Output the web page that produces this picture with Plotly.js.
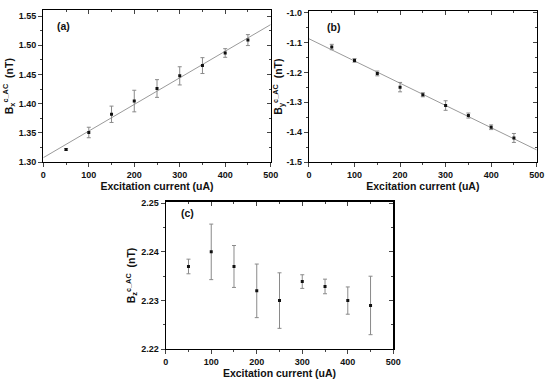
<!DOCTYPE html>
<html><head><meta charset="utf-8">
<script src="https://cdn.plot.ly/plotly-3.0.1.min.js"></script>
<style>html,body{margin:0;padding:0;background:#fff}#c{width:550px;height:383px}</style>
</head><body><div id="c"></div>
<script>
const current = [50,100,150,200,250,300,350,400,450];
const bxVal = [1.3216,1.3506,1.3818,1.4045,1.4260,1.4477,1.4653,1.4869,1.5090];
const bxErr = [0.0015,0.0090,0.0140,0.0185,0.0152,0.0156,0.0136,0.0074,0.0094];
const byVal = [-1.1152,-1.1600,-1.2036,-1.2494,-1.2750,-1.3110,-1.3445,-1.3837,-1.4195];
const byErr = [0.0090,0.0060,0.0080,0.0157,0.0067,0.0160,0.0084,0.0078,0.0150];
const bzVal = [2.2370,2.2400,2.2370,2.2320,2.2300,2.2339,2.2329,2.2300,2.2290];
const bzErr = [0.0015,0.0057,0.0043,0.0055,0.0057,0.0014,0.0015,0.0028,0.0060];
const xTicks = [0,100,200,300,400,500];
const aTicks = [1.30,1.35,1.40,1.45,1.50,1.55];
const bTicks = [-1.5,-1.4,-1.3,-1.2,-1.1,-1.0];
const cTicks = [2.22,2.23,2.24,2.25];

function fit(x,y){
  const n=x.length; const mx=x.reduce((a,b)=>a+b)/n; const my=y.reduce((a,b)=>a+b)/n;
  let sxy=0,sxx=0; for(let i=0;i<n;i++){sxy+=(x[i]-mx)*(y[i]-my);sxx+=(x[i]-mx)**2;}
  const s=sxy/sxx; return [s, my-s*mx];
}
const FONT='Liberation Sans, Arial, sans-serif';
const traces=[];
const sets=[[bxVal,bxErr,'x','y'],[byVal,byErr,'x2','y2'],[bzVal,bzErr,'x3','y3']];
sets.forEach(([v,e,xa,ya],i)=>{
  if(i<2){
    const [s,b]=fit(current,v);
    const xr=[xTicks[0],xTicks[xTicks.length-1]];
    traces.push({x:xr,y:xr.map(t=>b+s*t),mode:'lines',line:{color:'#9a9a9a',width:1},xaxis:xa,yaxis:ya,hoverinfo:'skip'});
  }
  traces.push({x:current,y:v,mode:'markers',marker:{symbol:'square',size:3,color:'#111'},
    error_y:{type:'data',array:e,visible:true,color:'#8a8a8a',thickness:1,width:2},xaxis:xa,yaxis:ya});
});

const tickFont={family:FONT,size:9,color:'#111'};
const titleFont={family:FONT,size:10.5,color:'#111',weight:700};
const bold=(arr,d)=>arr.map(v=>'<b>'+v.toFixed(d)+'</b>');
function xax(dom,anchor){
  return {domain:dom,anchor:anchor,range:[0,500],tickvals:xTicks,ticktext:bold(xTicks,0),ticks:'outside',ticklen:4,tickwidth:1,
    showline:true,linewidth:1.2,linecolor:'#000',mirror:true,showgrid:false,zeroline:false,
    minor:{dtick:50,ticks:'outside',ticklen:2,tickwidth:1},
    tickfont:tickFont,automargin:false,
    title:{text:'<b>Excitation current (uA)</b>',font:titleFont,standoff:2}};
}
function yax(dom,anchor,range,tv,d,mdt,title,so){
  return {domain:dom,anchor:anchor,range:range,tickvals:tv,ticktext:bold(tv,d),ticks:'outside',ticklen:4,tickwidth:1,
    showline:true,linewidth:1.2,linecolor:'#000',mirror:true,showgrid:false,zeroline:false,
    minor:{dtick:mdt,tick0:0,ticks:'outside',ticklen:2,tickwidth:1},
    tickfont:tickFont,automargin:false,
    title:{text:title,font:titleFont,standoff:so}};
}
function xin(ov,anchor){return {overlaying:ov,anchor:anchor,side:'top',range:[0,500],dtick:100,tick0:0,ticks:'inside',ticklen:4,showticklabels:false,showgrid:false,zeroline:false,minor:{dtick:50,ticks:'inside',ticklen:2}};}
function yin(ov,anchor,range,dtick,mdt){return {overlaying:ov,anchor:anchor,side:'right',range:range,dtick:dtick,tick0:0,ticks:'inside',ticklen:4,showticklabels:false,showgrid:false,zeroline:false,minor:{dtick:mdt,ticks:'inside',ticklen:2}};}

const rA=[1.30,1.56], rB=[-1.5,-0.995], rC=[2.22,2.2503];
const layout={
  width:550,height:383,margin:{l:0,r:0,t:0,b:0},paper_bgcolor:'#fff',plot_bgcolor:'#fff',showlegend:false,
  font:{family:FONT},
  xaxis:xax([0.0788,0.4921],'y'),
  yaxis:yax([0.577,0.973],'x',rA,aTicks,2,0.025,'<b>B<sub>x</sub><sup>c_AC</sup>  (nT)</b>',3),
  xaxis2:xax([0.5618,0.9758],'y2'),
  yaxis2:yax([0.577,0.971],'x2',rB,bTicks,1,0.05,'<b>B<sub>y</sub><sup>c_AC</sup>  (nT)</b>',1),
  xaxis3:xax([0.3013,0.7151],'y3'),
  yaxis3:yax([0.088,0.4734],'x3',rC,cTicks,2,0.005,'<b>B<sub>z</sub><sup>c_AC</sup>  (nT)</b>',3),
  xaxis4:xin('x','y'), yaxis4:yin('y','x',rA,0.05,0.025),
  xaxis5:xin('x2','y2'), yaxis5:yin('y2','x2',rB,0.1,0.05),
  xaxis6:xin('x3','y3'), yaxis6:yin('y3','x3',rC,0.01,0.005),
  annotations:[
    {text:'<b>(a)</b>',xref:'x domain',yref:'y domain',x:0.05,y:0.895,xanchor:'left',yanchor:'middle',showarrow:false,font:titleFont},
    {text:'<b>(b)</b>',xref:'x2 domain',yref:'y2 domain',x:0.07,y:0.895,xanchor:'left',yanchor:'middle',showarrow:false,font:titleFont},
    {text:'<b>(c)</b>',xref:'x3 domain',yref:'y3 domain',x:0.06,y:0.92,xanchor:'left',yanchor:'middle',showarrow:false,font:titleFont}
  ]
};
[['x4','y4',rA],['x5','y5',rB],['x6','y6',rC]].forEach(([xa,ya,r])=>{
  traces.push({x:[0],y:[r[0]],mode:'markers',marker:{opacity:0},xaxis:xa,yaxis:ya,hoverinfo:'skip'});
});
Plotly.newPlot('c',traces,layout,{staticPlot:true});
</script></body></html>
